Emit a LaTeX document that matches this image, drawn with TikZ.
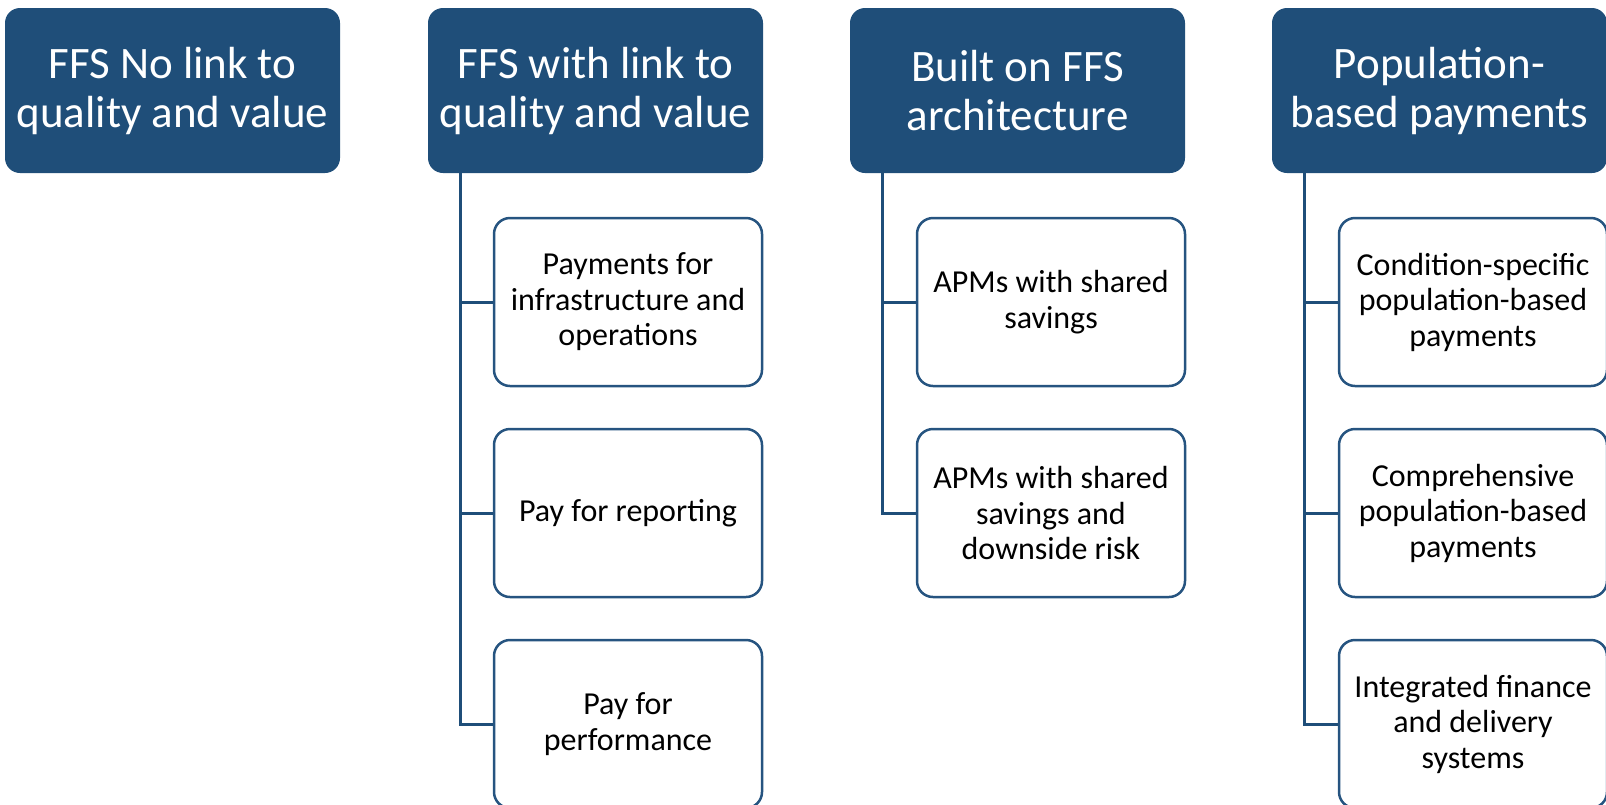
\documentclass[tikz,border=0pt]{standalone}
\usepackage{fontspec}
\setmainfont{Carlito}
\definecolor{hdr}{RGB}{31,78,121}
\definecolor{edgeblue}{RGB}{38,84,128}
\begin{document}
\begin{tikzpicture}[x=1pt,y=-1pt,
  head/.style={fill=hdr, rounded corners=15pt, text=white, align=center,
    inner sep=0pt, minimum width=335pt, minimum height=165pt,
    font=\fontsize{45}{49}\selectfont},
  item/.style={draw=edgeblue, line width=2.5pt, fill=white, rounded corners=16pt,
    align=center, inner sep=0pt, minimum width=268pt, minimum height=168pt,
    font=\fontsize{32}{35.5}\selectfont},
  link/.style={draw=hdr, line width=3pt}]
\useasboundingbox (0,0) rectangle (1606,804);
\clip (0,0) rectangle (1606,804);

% headers
\node[head] (h1) at (172.5,90.5) {FFS No link to\\quality and value};
\node[head] (h2) at (595.5,90.5) {FFS with link to\\quality and value};
\node[head] (h3) at (1017.5,90.5) {Built on FFS\\architecture};
\node[head] (h4) at (1439.5,90.5) {Population-\\based payments};

% spine coordinates
\coordinate (s2) at (460,0);
\coordinate (s3) at (882,0);
\coordinate (s4) at (1304,0);

% column 2
\node[item] (i21) at (628,302) {Payments for\\infrastructure and\\operations};
\node[item] (i22) at (628,513) {Pay for reporting};
\node[item] (i23) at (628,724) {Pay for\\performance};
% column 3
\node[item] (i31) at (1051,302) {APMs with shared\\savings};
\node[item] (i32) at (1051,513) {APMs with shared\\savings and\\downside risk};
% column 4
\node[item] (i41) at (1473,302) {Condition-specific\\population-based\\payments};
\node[item] (i42) at (1473,513) {Comprehensive\\population-based\\payments};
\node[item] (i43) at (1473,724) {Integrated finance\\and delivery\\systems};

% connectors
\draw[link] (h2.south -| s2) |- (i23.west);
\draw[link] (i21.west -| s2) -- (i21.west);
\draw[link] (i22.west -| s2) -- (i22.west);

\draw[link] (h3.south -| s3) |- (i32.west);
\draw[link] (i31.west -| s3) -- (i31.west);

\draw[link] (h4.south -| s4) |- (i43.west);
\draw[link] (i41.west -| s4) -- (i41.west);
\draw[link] (i42.west -| s4) -- (i42.west);
\end{tikzpicture}
\end{document}
